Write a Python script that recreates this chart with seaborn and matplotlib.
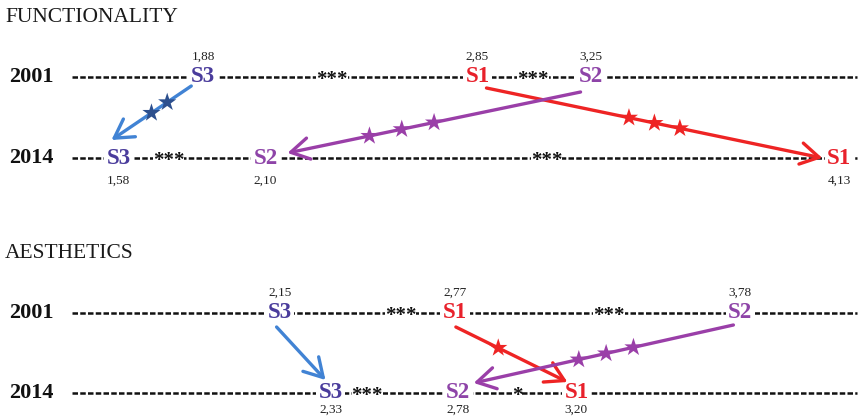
import matplotlib
matplotlib.use("Agg")
import matplotlib.pyplot as plt
import numpy as np
import pandas as pd
import seaborn as sns

# ---- data -------------------------------------------------------------
panels = ["FUNCTIONALITY", "AESTHETICS"]
years = ["2001", "2014"]
segments = ["S1", "S2", "S3"]

func_2001 = [2.85, 3.25, 1.88]
func_2014 = [4.13, 2.10, 1.58]
aest_2001 = [2.77, 3.78, 2.15]
aest_2014 = [3.20, 2.78, 2.33]

# significance of each segment's change 2001 -> 2014 (number of stars)
func_change_stars = [3, 3, 2]
aest_change_stars = [1, 3, 0]

# significance between neighbouring segments on a row (left to right)
func_2001_gaps = ["***", "***"]
func_2014_gaps = ["***", "***"]
aest_2001_gaps = ["***", "***"]
aest_2014_gaps = ["***", "*"]

# ---- style / layout ---------------------------------------------------
sns.set_theme(style="white")
plt.rcParams["font.family"] = ["Liberation Serif", "DejaVu Serif"]

seg_text_color = {"S1": "#e8212b", "S2": "#8e44a8", "S3": "#4a3c9c"}
seg_arrow_color = {"S1": "#ee2424", "S2": "#9a3fa8", "S3": "#4183d4"}
seg_star_color = {"S1": "#ee2424", "S2": "#9a3fa8", "S3": "#2c4f8e"}

W, H = 863, 420
PX = 282.7                 # pixels per scale unit
XMIN = 1.161
XMAX = XMIN + W / PX
LINE_X0, LINE_X1 = 72, 857

panel_layout = {
    "FUNCTIONALITY": dict(title_y=18, rows=(77, 158), label_dy=(-20, 23)),
    "AESTHETICS": dict(title_y=253, rows=(313, 393), label_dy=(-20, 17)),
}
# where each significance mark sits between its neighbours (0..1)
gap_frac = {
    ("FUNCTIONALITY", "2001"): [0.47, 0.49],
    ("FUNCTIONALITY", "2014"): [0.34, 0.49],
    ("AESTHETICS", "2001"): [0.69, 0.54],
    ("AESTHETICS", "2014"): [0.29, 0.50],
}
# arrow start / end offsets (px) from the label centres
arrow_offsets = {
    ("FUNCTIONALITY", "S3"): ((-12, 9), (-7, -18)),
    ("FUNCTIONALITY", "S2"): ((-10, 15), (22, -5)),
    ("FUNCTIONALITY", "S1"): ((9, 11), (-17, 0)),
    ("AESTHETICS", "S3"): ((-3, 14), (-5, -13)),
    ("AESTHETICS", "S1"): ((1, 14), (-9, -11)),
    ("AESTHETICS", "S2"): ((-7, 12), (16, -10)),
}
star_center = {
    ("FUNCTIONALITY", "S3"): 0.40, ("FUNCTIONALITY", "S2"): 0.61,
    ("FUNCTIONALITY", "S1"): 0.50, ("AESTHETICS", "S3"): 0.5,
    ("AESTHETICS", "S1"): 0.38, ("AESTHETICS", "S2"): 0.49,
}
star_spacing_px = {"FUNCTIONALITY": {"S1": 26, "S2": 33, "S3": 19},
                   "AESTHETICS": {"S1": 26, "S2": 28, "S3": 26}}

values = {
    ("FUNCTIONALITY", "2001"): func_2001, ("FUNCTIONALITY", "2014"): func_2014,
    ("AESTHETICS", "2001"): aest_2001, ("AESTHETICS", "2014"): aest_2014,
}
gaps = {
    ("FUNCTIONALITY", "2001"): func_2001_gaps, ("FUNCTIONALITY", "2014"): func_2014_gaps,
    ("AESTHETICS", "2001"): aest_2001_gaps, ("AESTHETICS", "2014"): aest_2014_gaps,
}
change_stars = {"FUNCTIONALITY": func_change_stars, "AESTHETICS": aest_change_stars}

fig = plt.figure(figsize=(W / 100, H / 100), dpi=100)
ax = fig.add_axes([0, 0, 1, 1])
ax.set_xlim(XMIN, XMAX)
ax.set_ylim(H, 0)
ax.axis("off")


def px_to_x(px):
    return XMIN + px / PX


white_box = dict(boxstyle="square,pad=0.12", fc="white", ec="none")

star_rows = []
for panel in panels:
    lay = panel_layout[panel]
    ax.text(px_to_x(5), lay["title_y"], panel, fontsize=15.5, ha="left",
            va="center", color="#1a1a1a")
    for yi, year in enumerate(years):
        y = lay["rows"][yi]
        vals = values[(panel, year)]
        ax.text(px_to_x(31), y, year, fontsize=16, fontweight="bold",
                ha="center", va="center", color="#111111")
        ax.plot([px_to_x(LINE_X0), px_to_x(LINE_X1)], [y, y], color="#111111",
                lw=1.8, linestyle=(0, (2.2, 0.9)), zorder=1)
        for seg, v in zip(segments, vals):
            ax.text(v, y, seg, fontsize=16.5, fontweight="bold", ha="center",
                    va="center", color=seg_text_color[seg], bbox=white_box,
                    zorder=4)
            ax.text(v, y + lay["label_dy"][yi], f"{v:.2f}".replace(".", ","),
                    fontsize=9.5, ha="center", va="center", color="#222222",
                    zorder=4)
        order = sorted(vals)
        for g, mark in enumerate(gaps[(panel, year)]):
            f = gap_frac[(panel, year)][g]
            gx = order[g] + f * (order[g + 1] - order[g])
            ax.text(gx, y + 3, mark, fontsize=15, fontweight="bold",
                    ha="center", va="center", color="#111111",
                    bbox=dict(boxstyle="square,pad=0.0", fc="white", ec="none"),
                    zorder=3)

    # arrows 2001 -> 2014
    y0, y1 = lay["rows"]
    for i, seg in enumerate(segments):
        v0 = values[(panel, "2001")][i]
        v1 = values[(panel, "2014")][i]
        (sx, sy), (ex, ey) = arrow_offsets[(panel, seg)]
        start = np.array([v0 + sx / PX, y0 + sy])
        end = np.array([v1 + ex / PX, y1 + ey])
        ax.annotate("", xy=end, xytext=start, zorder=5,
                    arrowprops=dict(arrowstyle="->,head_length=0.6,head_width=0.35",
                                    color=seg_arrow_color[seg], lw=2.4,
                                    shrinkA=0, shrinkB=0, mutation_scale=22))
        n = change_stars[panel][i]
        if n:
            # length of the arrow in pixels, to space the stars evenly
            d = np.array([(end[0] - start[0]) * PX, end[1] - start[1]])
            length = np.hypot(*d)
            step = star_spacing_px[panel][seg] / length
            c = star_center[(panel, seg)]
            for k in range(n):
                f = c + (k - (n - 1) / 2) * step
                p = start + f * (end - start)
                star_rows.append(dict(x=p[0], y=p[1], seg=seg))

stars = pd.DataFrame(star_rows)
sns.scatterplot(data=stars, x="x", y="y", hue="seg", palette=seg_star_color,
                marker="*", s=190, edgecolor="none", legend=False, ax=ax,
                zorder=6)
ax.set_xlim(XMIN, XMAX)
ax.set_ylim(H, 0)
ax.axis("off")

fig.savefig("out.png", dpi=100, facecolor="white")
